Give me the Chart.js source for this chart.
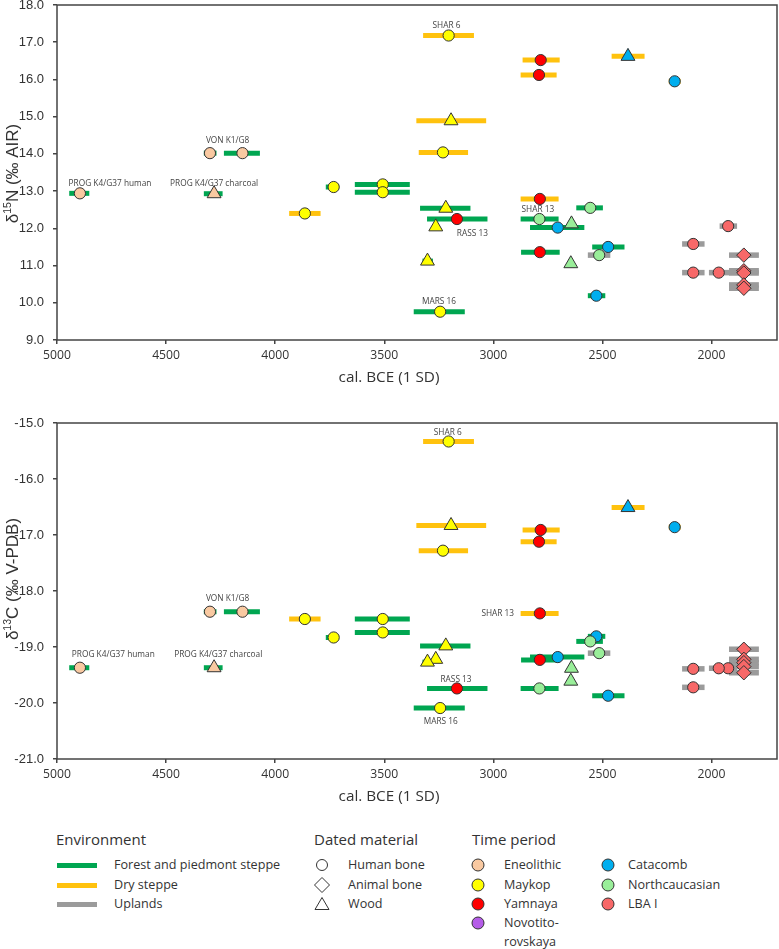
<!DOCTYPE html>
<html><head><meta charset="utf-8">
<script src="https://cdn.jsdelivr.net/npm/chart.js@4.4.1/dist/chart.umd.min.js"></script>
<style>
html,body{margin:0;padding:0;background:#fff;width:779px;height:949px;overflow:hidden;position:relative;font-family:'Open Sans',sans-serif;color:#333}
canvas{position:absolute;left:0}
.t{position:absolute;white-space:nowrap;transform:translateY(-50%);line-height:1.2;color:#333}
.sw{position:absolute}
</style></head><body>
<canvas id="c1" width="779" height="397" style="top:-7px"></canvas>
<canvas id="c2" width="779" height="398" style="top:411px"></canvas>
<div id="legend"></div>
<script>
// ---------------- DATA ----------------
const xTicks = [5000, 4500, 4000, 3500, 3000, 2500, 2000];
const nTicks = [9, 10, 11, 12, 13, 14, 15, 16, 17, 18];
const cTicks = [-21, -20, -19, -18, -17, -16, -15];

const sampleYear = [4895,4299,4150,4280,3864,3732,3507,3507,3205,3194,3231,3218,3264,3302,3244,3167,2783,2791,2787,2787,2383,2169,2705,2474,2528,2789,2642,2645,2556,2515,1924,2084,2084,1967,1852,1852,1852,1852,1852];
const yearFrom   = [4944,4327,4235,4327,3936,3768,3635,3635,3322,3353,3342,3336,null,3325,3365,3304,2866,2875,2875,2873,2458,2196,2832,2547,2567,2875,null,null,2620,2567,1963,2135,2135,2012,1920,1920,1920,1920,1920];
const yearTo     = [4852,4269,4070,4241,3792,3707,3383,3383,3089,3033,3116,3105,null,3277,3131,3027,2696,2710,2701,2696,2307,2142,2583,2399,2487,2701,null,null,2498,2464,1883,2032,2032,1918,1783,1783,1783,1783,1783];
const d15N = [12.94,14.02,14.02,12.93,12.40,13.11,13.18,12.97,17.18,14.89,14.04,12.54,12.04,11.12,9.76,12.25,16.52,16.12,12.79,11.36,16.62,15.95,12.02,11.50,10.19,12.25,12.12,11.05,12.55,11.28,12.06,11.58,10.81,10.81,11.28,10.86,10.80,10.48,10.39];
const d13C = [-19.37,-18.37,-18.37,-19.37,-18.50,-18.83,-18.50,-18.74,-15.33,-16.83,-17.28,-18.98,-19.22,-19.27,-20.09,-19.74,-16.91,-17.12,-18.40,-19.23,-16.51,-16.86,-19.18,-19.87,-18.81,-19.74,-19.38,-19.61,-18.90,-19.11,-19.38,-19.39,-19.72,-19.38,-19.04,-19.22,-19.28,-19.35,-19.46];
const environment = ['F','F','F','F','D','F','F','F','D','D','D','F',null,'F','F','F','D','D','D','F','D','D','F','F','F','F',null,null,'F','U','U','U','U','U','U','U','U','U','U'];
const material = ['H','H','H','W','H','H','H','H','H','W','H','W','W','W','H','H','H','H','H','H','W','H','H','H','H','H','W','W','H','H','H','H','H','H','A','A','A','A','A'];
const period = ['Eneolithic','Eneolithic','Eneolithic','Eneolithic','Maykop','Maykop','Maykop','Maykop','Maykop','Maykop','Maykop','Maykop','Maykop','Maykop','Maykop','Yamnaya','Yamnaya','Yamnaya','Yamnaya','Yamnaya','Catacomb','Catacomb','Catacomb','Catacomb','Catacomb','Northcaucasian','Northcaucasian','Northcaucasian','Northcaucasian','Northcaucasian','LBA I','LBA I','LBA I','LBA I','LBA I','LBA I','LBA I','LBA I','LBA I'];

const labelTexts = ['PROG K4/G37 human','PROG K4/G37 charcoal','VON K1/G8','SHAR 6','RASS 13','SHAR 13','MARS 16'];
const labelYearN = [4757, 4280, 4218, 3215, 3096, 2796, 3249];
const labelValN  = [13.19, 13.19, 14.35, 17.44, 11.87, 12.49, 10.03];
const labelYearC = [4742, 4261, 4218, 3209, 3171, 2980, 3241];
const labelValC  = [-19.13, -19.13, -18.13, -15.17, -19.58, -18.40, -20.34];

const xTitle = 'cal. BCE (1 SD)';
const yTitleN = ['δ', '15', 'N (‰ AIR)'];
const yTitleC = ['δ', '13', 'C (‰ V-PDB)'];

const envNames = ['Forest and piedmont steppe', 'Dry steppe', 'Uplands'];
const envKeys = ['F', 'D', 'U'];
const materialNames = ['Human bone', 'Animal bone', 'Wood'];
const materialKeys = ['H', 'A', 'W'];
const periodNames = ['Eneolithic', 'Maykop', 'Yamnaya', 'Novotito-|rovskaya', 'Catacomb', 'Northcaucasian', 'LBA I'];
const periodKeys = ['Eneolithic', 'Maykop', 'Yamnaya', 'Novotitorovskaya', 'Catacomb', 'Northcaucasian', 'LBA I'];

// ---------------- STYLE ----------------
const ENV_COLORS = {F: '#00A651', D: '#FFC20E', U: '#9B9B9B'};
const PERIOD_COLORS = {Eneolithic: '#F9C9A1', Maykop: '#FFFF00', Yamnaya: '#FF0000', Novotitorovskaya: '#B55CE8', Catacomb: '#00AEEF', Northcaucasian: '#99EE99', 'LBA I': '#F76868'};
const SHAPES = {H: 'circle', A: 'rectRot', W: 'triangle'};
const RADII = {H: 5.6, A: 7.2, W: 8};

const extrasPlugin = {
  id: 'extras',
  afterDraw(chart, args, o) {
    const {ctx, chartArea: a} = chart;
    const xs = chart.scales.x, ys = chart.scales.y;
    ctx.save();
    ctx.strokeStyle = '#444'; ctx.lineWidth = 1.5;
    ctx.strokeRect(a.left, a.top, a.right - a.left, a.bottom - a.top);
    // point labels
    ctx.fillStyle = '#444';
    ctx.font = '8.3px "Open Sans"';
    ctx.textAlign = 'center'; ctx.textBaseline = 'middle';
    o.texts.forEach((t, i) => ctx.fillText(t, xs.getPixelForValue(o.lx[i]), ys.getPixelForValue(o.ly[i])));
    // x title
    ctx.fillStyle = '#333';
    ctx.font = '15.3px "Open Sans"';
    ctx.fillText(xTitle, 389, a.bottom + 38);
    // y title with superscript
    const f = '17px "Liberation Sans"', fs = '10.5px "Liberation Sans"';
    ctx.font = f; const w0 = ctx.measureText(o.yt[0]).width, w2 = ctx.measureText(o.yt[2]).width;
    ctx.font = fs; const w1 = ctx.measureText(o.yt[1]).width;
    const tot = w0 + w1 + w2;
    ctx.translate(13, (a.top + a.bottom) / 2 + o.yShift);
    ctx.rotate(-Math.PI / 2);
    ctx.textAlign = 'left'; ctx.textBaseline = 'middle';
    let x = -tot / 2;
    ctx.font = f; ctx.fillText(o.yt[0], x, 0); x += w0;
    ctx.font = fs; ctx.fillText(o.yt[1], x, -5); x += w1;
    ctx.font = f; ctx.fillText(o.yt[2], x, 0);
    ctx.restore();
  }
};

function makeChart(id, vals, yMin, yMax, yTicks, lx, ly, yt, yShift) {
  const datasets = [];
  sampleYear.forEach((_, i) => {
    if (!environment[i]) return;
    datasets.push({
      type: 'line', showLine: true,
      data: [{x: yearFrom[i], y: vals[i]}, {x: yearTo[i], y: vals[i]}],
      borderColor: ENV_COLORS[environment[i]], borderWidth: environment[i] === 'U' ? 5.5 : 5, borderCapStyle: 'butt',
      pointRadius: 0, fill: false, order: 2
    });
  });
  datasets.push({
    type: 'scatter',
    data: sampleYear.map((x, i) => ({x, y: vals[i]})),
    pointStyle: material.map(m => SHAPES[m]),
    pointRadius: material.map(m => RADII[m]),
    backgroundColor: period.map(p => PERIOD_COLORS[p]),
    pointBackgroundColor: period.map(p => PERIOD_COLORS[p]),
    pointBorderColor: '#333', pointBorderWidth: 1, order: 1
  });
  const gridCfg = {display: true, drawOnChartArea: false, drawTicks: true, tickLength: 4, color: '#444', lineWidth: 1.5};
  return new Chart(document.getElementById(id), {
    type: 'scatter',
    data: {datasets},
    plugins: [extrasPlugin],
    options: {
      responsive: false, animation: false, events: [], devicePixelRatio: 1,
      layout: {autoPadding: false, padding: {top: 12, left: 0, right: 2, bottom: 20}},
      plugins: {legend: {display: false}, tooltip: {enabled: false},
        extras: {texts: labelTexts, lx, ly, yt, yShift}},
      scales: {
        x: {type: 'linear', reverse: true, min: 1700, max: 5000,
          afterBuildTicks: s => { s.ticks = xTicks.map(v => ({value: v})); },
          afterFit: s => { s.height = 30; s.paddingLeft = 0; s.paddingRight = 0; },
          ticks: {callback: v => String(v), font: {family: 'Open Sans', size: 12.2}, color: '#333', padding: 4, maxRotation: 0, autoSkip: false},
          grid: gridCfg, border: {display: false}},
        y: {type: 'linear', min: yMin, max: yMax,
          afterBuildTicks: s => { s.ticks = yTicks.map(v => ({value: v})); },
          afterFit: s => { s.width = 57; s.paddingTop = 0; s.paddingBottom = 0; },
          ticks: {callback: v => Number(v).toFixed(1), font: {family: 'Liberation Sans', size: 13}, color: '#333', padding: 9, autoSkip: false},
          grid: gridCfg, border: {display: false}}
      }
    }
  });
}

makeChart('c1', d15N, 9, 18, nTicks, labelYearN, labelValN, yTitleN, 1);
makeChart('c2', d13C, -21, -15, cTicks, labelYearC, labelValC, yTitleC, -12);

// ---------------- LEGEND (HTML) ----------------
const L = document.getElementById('legend');
function txt(s, x, y, size) {
  const d = document.createElement('div');
  d.className = 't'; d.textContent = s;
  d.style.left = x + 'px'; d.style.top = y + 'px'; d.style.fontSize = size + 'px';
  L.appendChild(d);
}
function svgShape(kind, cx, cy, fill) {
  const s = 18;
  const ns = 'http://www.w3.org/2000/svg';
  const svg = document.createElementNS(ns, 'svg');
  svg.setAttribute('width', s); svg.setAttribute('height', s);
  svg.style.position = 'absolute'; svg.style.left = (cx - s / 2) + 'px'; svg.style.top = (cy - s / 2) + 'px';
  let el;
  if (kind === 'H') { el = document.createElementNS(ns, 'circle'); el.setAttribute('cx', 9); el.setAttribute('cy', 9); el.setAttribute('r', fill ? 6 : 5.5); }
  else if (kind === 'A') { el = document.createElementNS(ns, 'polygon'); el.setAttribute('points', '9,1.5 16.5,9 9,16.5 1.5,9'); }
  else { el = document.createElementNS(ns, 'polygon'); el.setAttribute('points', '9,2.5 16,14.5 2,14.5'); }
  el.setAttribute('fill', fill || '#fff'); el.setAttribute('stroke', '#333'); el.setAttribute('stroke-width', 1);
  svg.appendChild(el); L.appendChild(svg);
}
const hdrY = 839, rowY = [865, 885, 904, 923, 942];
txt('Environment', 56, hdrY, 15);
txt('Dated material', 314, hdrY, 15);
txt('Time period', 472, hdrY, 15);
envNames.forEach((n, i) => {
  const b = document.createElement('div'); b.className = 'sw';
  b.style.cssText = `left:57px;top:${rowY[i] - 2.5}px;width:40px;height:5px;background:${ENV_COLORS[envKeys[i]]}`;
  L.appendChild(b);
  txt(n, 114, rowY[i], 12.6);
});
materialNames.forEach((n, i) => { svgShape(materialKeys[i], 322, rowY[i]); txt(n, 348, rowY[i], 12.6); });
periodNames.forEach((n, i) => {
  const col = i < 4 ? 0 : 1, r = i < 4 ? i : i - 4;
  const cx = col ? 608 : 478, tx = col ? 628 : 504;
  svgShape('H', cx, rowY[r], PERIOD_COLORS[periodKeys[i]]);
  n.split('|').forEach((part, k) => txt(part, tx, rowY[r + k], 12.6));
});
</script>
</body></html>
